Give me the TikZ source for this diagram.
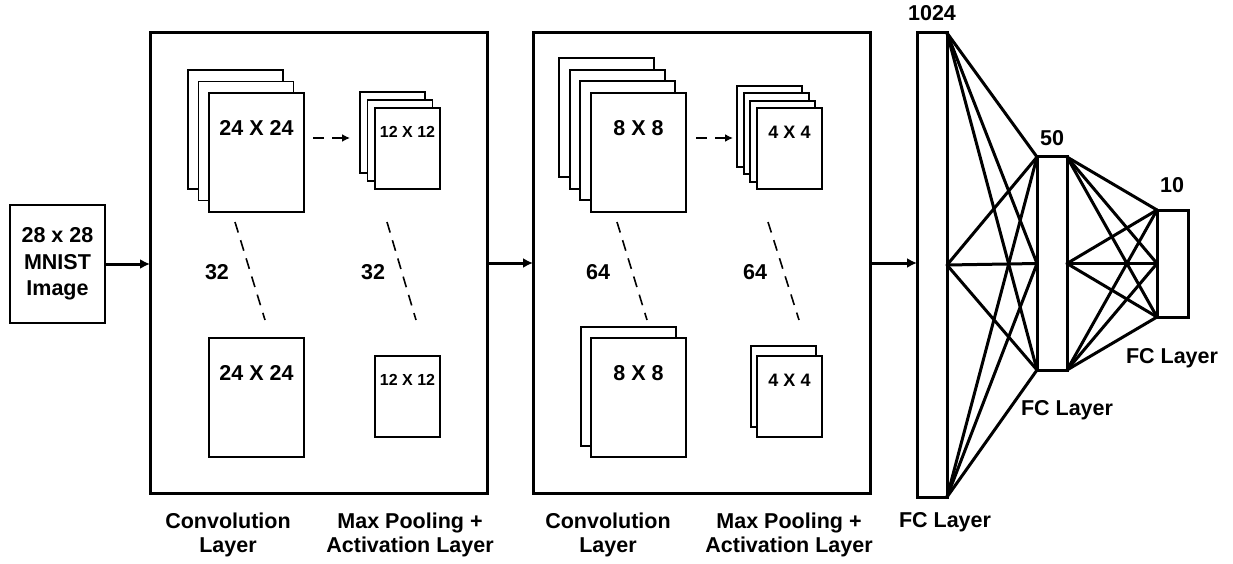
\documentclass[tikz,border=0pt]{standalone}
\usepackage{fontspec}
\setmainfont{Liberation Sans}
\usetikzlibrary{arrows.meta}
\begin{document}
\begin{tikzpicture}[x=1pt,y=-1pt,
  fmap/.style={draw, fill=white, line width=1.8pt, inner sep=0pt, outer sep=0pt, anchor=north west, minimum width=95pt, minimum height=119pt},
  smap/.style={fmap, minimum width=65pt, minimum height=81pt},
  stage/.style={draw, line width=3pt, inner sep=0pt, outer sep=0pt, anchor=north west, minimum width=337pt, minimum height=460pt},
  fcbar/.style={draw, fill=white, line width=3pt, inner sep=0pt, outer sep=0pt, anchor=north west, minimum width=30pt},
  lbl/.style={font=\fontsize{21.5}{24}\selectfont\bfseries, inner sep=0pt, align=center},
  lblsmall/.style={lbl, font=\fontsize{16}{19}\selectfont\bfseries},
  lblfour/.style={lbl, font=\fontsize{18}{21}\selectfont\bfseries},
  conn/.style={line width=3pt, -{Latex[length=10pt,width=10pt]}},
  dasharrow/.style={line width=2pt, dash pattern=on 11pt off 8pt, -{Latex[length=8pt,width=8pt]}},
  dots/.style={line width=1.6pt, dash pattern=on 11pt off 8pt},
  fcline/.style={line width=3pt, line cap=round}]
\useasboundingbox (0,0) rectangle (1233,564);

% input
\node[draw, line width=2.2pt, inner sep=0pt, outer sep=0pt, anchor=north west, minimum width=95pt, minimum height=118pt] (in) at (10,205) {};
\node[lbl, font=\fontsize{21.5}{26.5}\selectfont\bfseries] (intext) at (57.5,264) {28 x 28\\MNIST\\Image};

% stages
\node[stage] (st1) at (150,33) {};
\node[stage] (st2) at (533,33) {};

% stage 1 conv maps
\node[fmap] (c1a) at (188,70) {};
\node[fmap] (c1b) at (198.5,81.5) {};
\node[fmap] (c1f) at (209,93) {};
\node[lbl] (c1ft) at (256.5,128) {24 X 24};
\node[fmap] (c1l) at (209,338) {};
\node[lbl] (c1lt) at (256.5,373) {24 X 24};
% stage 1 pool maps
\node[smap] (p1a) at (360,92) {};
\node[smap] (p1b) at (367.5,100) {};
\node[smap] (p1f) at (375,108) {};
\node[lblsmall] (p1ft) at (407.5,132) {12 X 12};
\node[smap] (p1l) at (375,356) {};
\node[lblsmall] (p1lt) at (407.5,380) {12 X 12};

\draw[dasharrow] ([shift={(9,45)}]c1f.north east) -- ([shift={(-10,46)}]p1a.north west);
\coordinate (d1s) at (235,222); \coordinate (d1e) at (265,320);
\coordinate (d2s) at (387,222); \coordinate (d2e) at (416,320);
\draw[dots] (d1s) -- (d1e);
\draw[dots] (d2s) -- (d2e);
\node[lbl] (n32a) at (217,272) {32};
\node[lbl] (n32b) at (373,272) {32};

% stage 2 conv maps
\node[fmap] (c2a) at (559,58) {};
\node[fmap] (c2b) at (569.7,69.7) {};
\node[fmap] (c2c) at (580.3,81.3) {};
\node[fmap] (c2f) at (591,93) {};
\node[lbl] (c2ft) at (638.5,128) {8 X 8};
\node[fmap] (c2lb) at (581,327) {};
\node[fmap] (c2l) at (591,338) {};
\node[lbl] (c2lt) at (638.5,373) {8 X 8};
% stage 2 pool maps
\node[smap] (p2a) at (737,86) {};
\node[smap] (p2b) at (743.7,93.3) {};
\node[smap] (p2c) at (750.3,100.7) {};
\node[smap] (p2f) at (757,108) {};
\node[lblfour] (p2ft) at (789.5,132) {4 X 4};
\node[smap] (p2lb) at (751,346) {};
\node[smap] (p2l) at (757,356) {};
\node[lblfour] (p2lt) at (789.5,380) {4 X 4};

\draw[dasharrow] ([shift={(10,45)}]c2f.north east) -- ([shift={(-4,52)}]p2a.north west);
\coordinate (d3s) at (617,222); \coordinate (d3e) at (647,320);
\coordinate (d4s) at (768,222); \coordinate (d4e) at (799,320);
\draw[dots] (d3s) -- (d3e);
\draw[dots] (d4s) -- (d4e);
\node[lbl] (n64a) at (598,272) {64};
\node[lbl] (n64b) at (755,272) {64};

% FC part
\node[fcbar, minimum height=464pt] (fc1) at (917,33) {};
\node[fcbar, minimum height=213pt] (fc2) at (1037,157) {};
\node[fcbar, minimum width=31pt, minimum height=107pt] (fc3) at (1157,210) {};
\foreach \a in {north east, east, south east}
  \foreach \b in {north west, west, south west}
    \draw[fcline] (fc1.\a) -- (fc2.\b);
\foreach \a in {north east, east, south east}
  \foreach \b in {north west, west, south west}
    \draw[fcline] (fc2.\a) -- (fc3.\b);
\node[lbl] (l1024) at (932,13) {1024};
\node[lbl] (l50) at (1052,138) {50};
\node[lbl] (l10) at (1172,185) {10};
\node[lbl] (fcl2) at (1067,410) {FC Layer};
\node[lbl] (fcl3) at (1172,358) {FC Layer};

% main connectors
\draw[conn] (in.east) -- (in.east -| st1.west);
\draw[conn] (st1.east) -- (st1.east -| st2.west);
\draw[conn] (st2.east) -- (st2.east -| fc1.west);

% bottom labels
\node[lbl] (lc1) at (228,535) {Convolution\\Layer};
\node[lbl] (lp1) at (410,535) {Max Pooling +\\Activation Layer};
\node[lbl] (lc2) at (608,535) {Convolution\\Layer};
\node[lbl] (lp2) at (789,535) {Max Pooling +\\Activation Layer};
\node[lbl] (fcl1) at (945,522) {FC Layer};
\end{tikzpicture}
\end{document}
